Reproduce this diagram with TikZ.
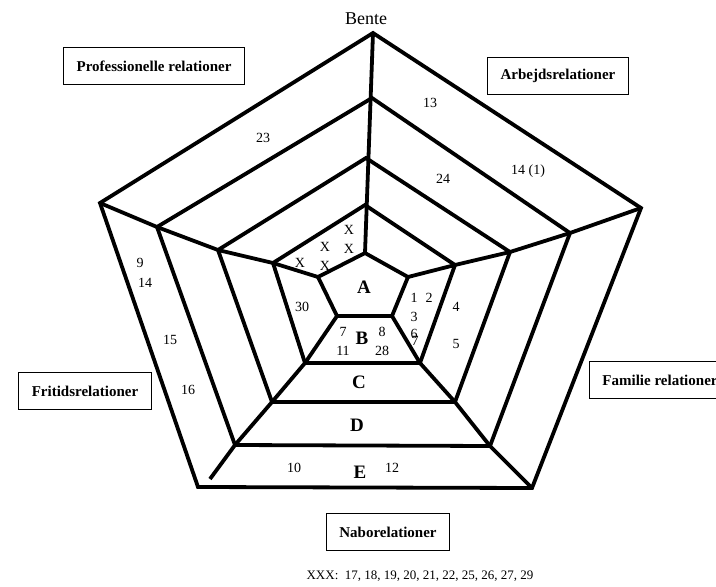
\documentclass[tikz,border=0pt]{standalone}
\usepackage{fontspec}
\setmainfont{Liberation Serif}
\usetikzlibrary{positioning}

\begin{document}
\begin{tikzpicture}[x=1pt,y=-1pt,on grid,node distance=19pt,
    ring/.style={line width=3.8pt,line join=miter},
    relbox/.style={draw,line width=1.2pt,inner xsep=13pt,minimum height=37pt,
        font=\fontsize{15}{17}\selectfont\bfseries},
    num/.style={inner sep=0pt,font=\fontsize{14}{16}\selectfont},
    lev/.style={inner sep=0pt,font=\fontsize{19}{21}\selectfont\bfseries}]
    \useasboundingbox (0,0) rectangle (716,587);

    % corners of the rings A..E: top, right, bottom right, bottom left, left
    \coordinate (aT) at (365,253); \coordinate (aR) at (408,277);
    \coordinate (aBR) at (392,316); \coordinate (aBL) at (337,316);
    \coordinate (aL) at (318,277);
    \coordinate (bT) at (365,205); \coordinate (bR) at (455,265);
    \coordinate (bBR) at (420,363); \coordinate (bBL) at (305,363);
    \coordinate (bL) at (273,263);
    \coordinate (cT) at (366,158); \coordinate (cR) at (510,252);
    \coordinate (cBR) at (455,402); \coordinate (cBL) at (272,402);
    \coordinate (cL) at (218,250);
    \coordinate (dT) at (372,98);  \coordinate (dR) at (570,233);
    \coordinate (dBR) at (490,446); \coordinate (dBL) at (235,445);
    \coordinate (dL) at (157,227);
    \coordinate (eT) at (373,33);  \coordinate (eR) at (641,208);
    \coordinate (eBR) at (532,488); \coordinate (eBL) at (198,487);
    \coordinate (eL) at (100,203);
    \coordinate (eEnd) at (210,479);

    \foreach \lv in {a,b,c,d,e}
        \draw[ring] (\lv T) -- (\lv R) -- (\lv BR) -- (\lv BL) -- (\lv L) -- cycle;

    \draw[ring] (aT) -- (eT);
    \draw[ring] (aR) -- (bR) -- (cR) -- (dR) -- (eR);
    \draw[ring] (aBR) -- (bBR) -- (cBR) -- (dBR) -- (eBR);
    \draw[ring] (aBL) -- (bBL) -- (cBL) -- (dBL) -- (eEnd);
    \draw[ring] (aL) -- (bL) -- (cL) -- (dL) -- (eL);

    \node[inner sep=0pt,font=\fontsize{18}{20}\selectfont] (bente) at (366,19) {Bente};

    \node[lev] (lA) at (364,287) {A};
    \node[lev] (lB) at (362,338) {B};
    \node[lev] (lC) at (359,382) {C};
    \node[lev] (lD) at (357,425) {D};
    \node[lev] (lE) at (360,472) {E};

    \node[relbox] (prof) at (154,66)  {Professionelle relationer};
    \node[relbox] (arb)  at (558,76)  {Arbejdsrelationer};
    \node[relbox] (frit) at (85,391)  {Fritidsrelationer};
    \node[relbox] (fam)  at (660,380) {Familie relationer};
    \node[relbox] (nabo) at (388,532) {Naborelationer};

    % names placed in the rings
    \node[num] (x1) at (349,230) {X};
    \node[num] (x2) at (325,247) {X};
    \node[num] (x3) at (349,249) {X};
    \node[num] (x4) at (300,263) {X};
    \node[num] (x5) at (325,266) {X};

    \node[num] (n13) at (430,103) {13};
    \node[num] (n23) at (263,138) {23};
    \node[num] (n24) at (443,179) {24};
    \node[num] (n14a) at (528,171) {14 (1)};
    \node[num] (n9)  at (140,263) {9};
    \node[num] (n14) at (145,283) {14};
    \node[num] (n15) at (170,340) {15};
    \node[num] (n16) at (188,390) {16};
    \node[num] (n30) at (302,307) {30};
    \node[num] (n1)  at (414,298) {1};
    \node[num] (n2)  [right=15pt of n1] {2};
    \node[num] (n3)  [below=of n1] {3};
    \node[num] (n6)  [below=17pt of n3] {6};
    \node[num] (n7b) at (415,341) {7};
    \node[num] (n4)  at (456,307) {4};
    \node[num] (n5)  at (456,344) {5};
    \node[num] (n7)  at (343,332) {7};
    \node[num] (n8)  at (382,332) {8};
    \node[num] (n11) [below=of n7] {11};
    \node[num] (n28) [below=of n8] {28};
    \node[num] (n10) at (294,468) {10};
    \node[num] (n12) at (392,468) {12};

    \node[num,font=\fontsize{13}{15}\selectfont] (rest) at (420,576)
        {XXX:\ \ 17, 18, 19, 20, 21, 22, 25, 26, 27, 29};
\end{tikzpicture}
\end{document}
